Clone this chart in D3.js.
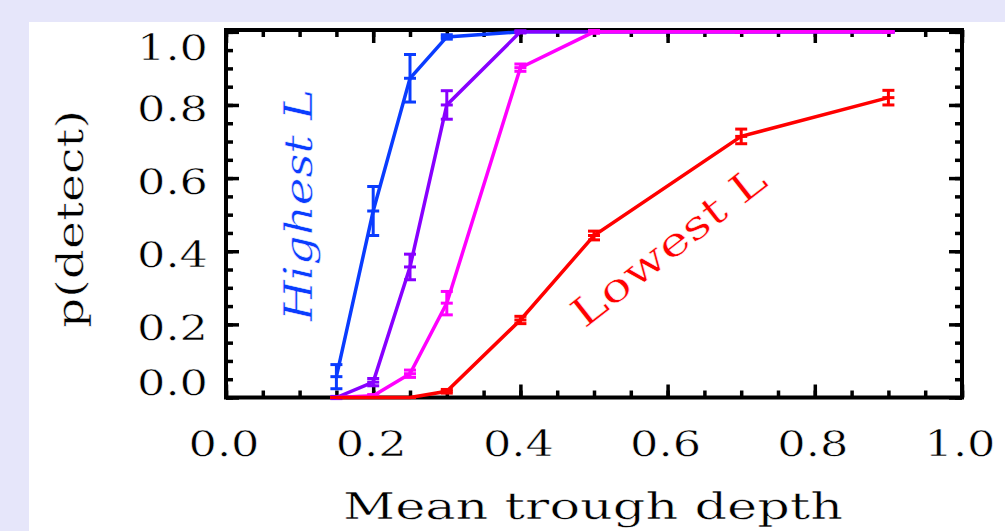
<!DOCTYPE html>
<html><head><meta charset="utf-8">
<script src="https://cdn.jsdelivr.net/npm/d3@7"></script>
<style>
html,body{margin:0;padding:0;background:#e6e6fa;}
svg{display:block;}
text.t{stroke:#fff;stroke-width:0.5px;paint-order:fill;}
</style></head>
<body>
<svg id="c" width="1005" height="531"></svg>
<script>
// ---- data ----
const xValues = [0.15, 0.2, 0.25, 0.3, 0.4, 0.5, 0.7, 0.9];
const highestL = [0.057, 0.51, 0.873, 0.986, 1, 1, 1, 1];
const highestLErr = [0.033, 0.067, 0.065, 0.006, 0, 0, 0, 0];
const secondL = [0, 0.042, 0.357, 0.80, 1, 1, 1, 1];
const secondLErr = [0.003, 0.01, 0.035, 0.039, 0.003, 0, 0, 0];
const thirdL = [0, 0.005, 0.065, 0.258, 0.902, 1, 1, 1];
const thirdLErr = [0, 0.003, 0.01, 0.032, 0.01, 0.004, 0, 0];
const lowestL = [0, 0, 0, 0.017, 0.212, 0.443, 0.714, 0.82];
const lowestLErr = [0, 0, 0, 0.005, 0.01, 0.012, 0.02, 0.02];
const seriesColors = ["#0a3cff", "#8800ff", "#ff00ff", "#ff0000"];
const xTicks = [0, 0.2, 0.4, 0.6, 0.8, 1.0];
const yTicks = [0, 0.2, 0.4, 0.6, 0.8, 1.0];
const xTitle = "Mean trough depth";
const yTitle = "p(detect)";
const labelHigh = "Highest L";
const labelLow = "Lowest L";

const series = [
  {v: highestL, e: highestLErr, c: seriesColors[0]},
  {v: secondL, e: secondLErr, c: seriesColors[1]},
  {v: thirdL, e: thirdLErr, c: seriesColors[2]},
  {v: lowestL, e: lowestLErr, c: seriesColors[3]}
];

const svg = d3.select("#c");
const font = "DejaVu Serif";
// white panel
svg.append("rect").attr("x", 29).attr("y", 22).attr("width", 1005 - 29).attr("height", 531 - 22).attr("fill", "#fff");

const L = 226, R = 962, T = 30, B = 397.5;
const x = d3.scaleLinear().domain([0, 1]).range([L, R]);
const y = d3.scaleLinear().domain([0, 1.005]).range([B, T]);

const minorX = d3.range(0, 1.0001, 0.05);
const minorY = d3.range(0, 1.0001, 0.05);

function styleAxis(g){
  g.select(".domain").remove();
  g.selectAll("line").attr("stroke", "#000").attr("stroke-width", 3.5);
  g.selectAll("text").remove();
}
// minor ticks
svg.append("g").attr("transform", `translate(0,${B})`).call(d3.axisBottom(x).tickValues(minorX).tickSize(-7)).call(styleAxis);
svg.append("g").attr("transform", `translate(0,${T})`).call(d3.axisTop(x).tickValues(minorX).tickSize(-7)).call(styleAxis);
svg.append("g").attr("transform", `translate(${L},0)`).call(d3.axisLeft(y).tickValues(minorY).tickSize(-7)).call(styleAxis);
svg.append("g").attr("transform", `translate(${R},0)`).call(d3.axisRight(y).tickValues(minorY).tickSize(-7)).call(styleAxis);
// major ticks
svg.append("g").attr("transform", `translate(0,${B})`).call(d3.axisBottom(x).tickValues(xTicks).tickSize(-13)).call(styleAxis);
svg.append("g").attr("transform", `translate(0,${T})`).call(d3.axisTop(x).tickValues(xTicks).tickSize(-13)).call(styleAxis);
svg.append("g").attr("transform", `translate(${L},0)`).call(d3.axisLeft(y).tickValues(yTicks).tickSize(-13)).call(styleAxis);
svg.append("g").attr("transform", `translate(${R},0)`).call(d3.axisRight(y).tickValues(yTicks).tickSize(-13)).call(styleAxis);

// frame
svg.append("rect").attr("x", L).attr("y", T).attr("width", R - L).attr("height", B - T)
  .attr("fill", "none").attr("stroke", "#000").attr("stroke-width", 4);

// tick labels
svg.append("g").selectAll("text").data(xTicks).join("text").attr("class", "t")
  .attr("x", d => x(d) - 2).attr("y", 456)
  .attr("text-anchor", "middle").attr("font-family", font).attr("font-size", 35)
  .attr("textLength", 71).attr("lengthAdjust", "spacingAndGlyphs")
  .text(d => d.toFixed(1));
svg.append("g").selectAll("text").data(yTicks).join("text").attr("class", "t")
  .attr("x", 208).attr("y", d => Math.min(Math.max(y(d) + 16, T + 30), B - 3))
  .attr("text-anchor", "end").attr("font-family", font).attr("font-size", 35)
  .attr("textLength", 71).attr("lengthAdjust", "spacingAndGlyphs")
  .text(d => d.toFixed(1));

// axis titles
svg.append("text").attr("class", "t").attr("x", (L + R) / 2 - 1).attr("y", 519)
  .attr("text-anchor", "middle").attr("font-family", font).attr("font-size", 37)
  .attr("textLength", 500).attr("lengthAdjust", "spacingAndGlyphs").text(xTitle);
svg.append("text").attr("class", "t").attr("transform", "translate(83,219) rotate(-90)")
  .attr("text-anchor", "middle").attr("font-family", font).attr("font-size", 38)
  .attr("textLength", 218).attr("lengthAdjust", "spacingAndGlyphs").text(yTitle);

// series
const line = d3.line().x((d, i) => x(xValues[i])).y(d => y(d));
series.forEach(s => {
  const g = svg.append("g");
  g.append("path").attr("d", line(s.v)).attr("fill", "none").attr("stroke", s.c).attr("stroke-width", 3.5);
  const pts = s.v.map((v, i) => ({x: xValues[i], v, e: s.e[i]}));
  const eb = g.selectAll("g.eb").data(pts).join("g");
  eb.append("line").attr("x1", d => x(d.x)).attr("x2", d => x(d.x))
    .attr("y1", d => y(d.v - d.e)).attr("y2", d => y(d.v + d.e)).attr("stroke", s.c).attr("stroke-width", 3);
  [-1, 0, 1].forEach(k => {
    eb.append("line").attr("x1", d => x(d.x) - 6).attr("x2", d => x(d.x) + 6)
      .attr("y1", d => y(d.v + k * d.e)).attr("y2", d => y(d.v + k * d.e))
      .attr("stroke", s.c).attr("stroke-width", 3);
  });
});

// annotations
svg.append("text").attr("class", "t").attr("transform", "translate(312,205) rotate(-90)")
  .attr("text-anchor", "middle").attr("font-family", font).attr("font-style", "italic")
  .attr("font-size", 40).attr("fill", seriesColors[0])
  .attr("textLength", 232).attr("lengthAdjust", "spacingAndGlyphs").text(labelHigh);
svg.append("text").attr("class", "t").attr("transform", "translate(677,257) rotate(-38)")
  .attr("text-anchor", "middle").attr("font-family", font)
  .attr("font-size", 40).attr("fill", seriesColors[3])
  .attr("textLength", 235).attr("lengthAdjust", "spacingAndGlyphs").text(labelLow);
</script>
</body></html>
